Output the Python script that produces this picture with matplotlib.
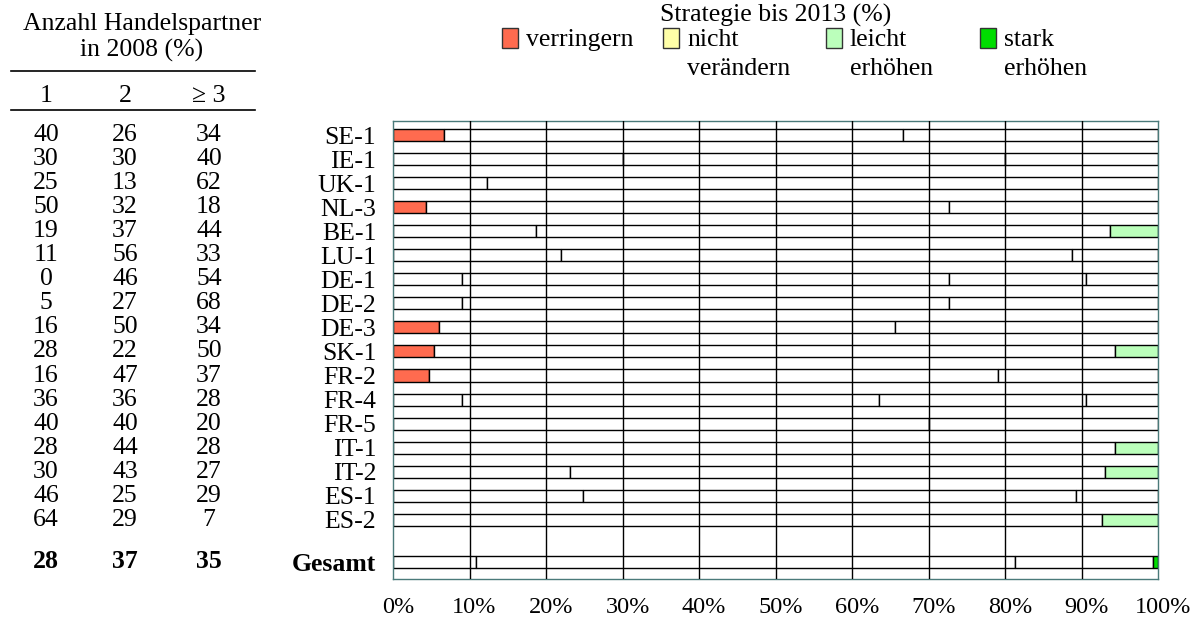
import numpy as np
import matplotlib.pyplot as plt
from matplotlib.patches import Rectangle
from matplotlib.transforms import blended_transform_factory, ScaledTranslation

plt.rcParams['font.family'] = ['Liberation Serif', 'DejaVu Serif']

# Zeilen (Länder / Betriebe)
rows = ["SE-1", "IE-1", "UK-1", "NL-3", "BE-1", "LU-1", "DE-1", "DE-2", "DE-3",
        "SK-1", "FR-2", "FR-4", "FR-5", "IT-1", "IT-2", "ES-1", "ES-2", "Gesamt"]

# Anzahl Handelspartner in 2008 (%)
hp_1 = [40, 30, 25, 50, 19, 11, 0, 5, 16, 28, 16, 36, 40, 28, 30, 46, 64, 28]
hp_2 = [26, 30, 13, 32, 37, 56, 46, 27, 50, 22, 47, 36, 40, 44, 43, 25, 29, 37]
hp_3 = [34, 40, 62, 18, 44, 33, 54, 68, 34, 50, 37, 28, 20, 28, 27, 29, 7, 35]

# Strategie bis 2013 (%) - so wie im Bild sichtbar
verringern = [6.7, 0, 0, 4.3, 0, 0, 0, 0, 6.0, 5.4, 4.7, 0, 0, 0, 0, 0, 0, 0]
leicht = [0, 0, 0, 0, 6.3, 0, 0, 0, 0, 5.7, 0, 0, 0, 5.7, 7.0, 0, 7.3, 0]
stark = [0, 0, 0, 0, 0, 0, 0, 0, 0, 0, 0, 0, 0, 0, 0, 0, 0, 0.7]
# weitere Segmentgrenzen (weisse Segmente)
grenzen = [[66.6], [30, 80], [12.3], [72.6], [18.7], [22.0, 88.7],
           [9.0, 72.6, 90.6], [9.0, 72.6], [65.6], [], [79.0],
           [9.0, 63.5, 90.6], [70], [], [23.1], [24.8, 89.3], [], [10.8, 81.3]]

legend_labels = ["verringern", "nicht\nverändern", "leicht\nerhöhen", "stark\nerhöhen"]
c_red = "#ff6b4f"
c_yellow = "#ffffa8"
c_lgreen = "#bbffbb"
c_green = "#00dd00"
legend_colors = [c_red, c_yellow, c_lgreen, c_green]

fs = 18.5
fig = plt.figure(figsize=(12.04, 6.22), dpi=100)
ax = fig.add_axes([393 / 1204, 1 - 579.3 / 622, (1158.3 - 393) / 1204, (579.3 - 121) / 622])

ypos = np.append(np.arange(len(rows) - 1), len(rows) - 1 + 0.75)
h = 0.5

for i, y in enumerate(ypos):
    red_end = verringern[i]
    green_start = 100 - leicht[i] - stark[i]
    b = [0] + ([red_end] if red_end > 0 else []) + grenzen[i] + [green_start]
    if leicht[i] > 0 and stark[i] > 0:
        b.append(100 - stark[i])
    if b[-1] < 100:
        b.append(100)
    for k in range(len(b) - 1):
        left, right = b[k], b[k + 1]
        if red_end > 0 and k == 0:
            col = c_red
        elif stark[i] > 0 and left >= 100 - stark[i]:
            col = c_green
        elif leicht[i] > 0 and left >= green_start:
            col = c_lgreen
        else:
            col = "white"
        ax.barh(y, right - left, left=left, height=h, color=col,
                edgecolor="black", linewidth=1, zorder=2)

for xg in range(10, 100, 10):
    ax.axvline(xg, color="black", linewidth=1, zorder=3)

ax.set_xlim(0, 100)
ax.set_ylim(ypos[-1] + 0.73, -0.59)
ax.set_xticks(np.arange(0, 101, 10))
ax.set_xticklabels([f"{v}%" for v in range(0, 101, 10)], fontsize=17.5)
ax.set_yticks(ypos)
ax.set_yticklabels(rows, fontsize=fs)
ax.get_yticklabels()[-1].set_fontweight("bold")
ax.tick_params(length=0)
ax.tick_params(axis="x", pad=13)
ax.tick_params(axis="y", pad=12)
for lab in ax.get_xticklabels():
    lab.set_transform(lab.get_transform() + ScaledTranslation(5 / 100, 0, fig.dpi_scale_trans))
for sp in ax.spines.values():
    sp.set_color("#4a7a7a")
    sp.set_linewidth(1)

# linke Tabelle
tr = blended_transform_factory(fig.transFigure, ax.transData)
col_x = [46 / 1204, 125 / 1204, 209 / 1204]
for i, y in enumerate(ypos):
    w = "bold" if i == len(rows) - 1 else "normal"
    for cx, v in zip(col_x, [hp_1[i], hp_2[i], hp_3[i]]):
        fig.text(cx, y, str(v), transform=tr, ha="center", va="center",
                 fontsize=fs, fontweight=w)

fig.text(142 / 1204, 1 - 24 / 622, "Anzahl Handelspartner", ha="center", va="center", fontsize=fs)
fig.text(142 / 1204, 1 - 50 / 622, "in 2008 (%)", ha="center", va="center", fontsize=fs)
for cx, t in zip(col_x, ["1", "2", "≥ 3"]):
    fig.text(cx, 1 - 96 / 622, t, ha="center", va="center", fontsize=fs)
for yl in [71, 110]:
    fig.add_artist(plt.Line2D([11 / 1204, 255 / 1204], [1 - yl / 622, 1 - yl / 622],
                              color="black", linewidth=1.2, transform=fig.transFigure))

# Legende
fig.text(776 / 1204, 1 - 15 / 622, "Strategie bis 2013 (%)", ha="center", va="center", fontsize=fs)
leg_x = [502, 663, 826, 980]
for lx, lab, col in zip(leg_x, legend_labels, legend_colors):
    fig.add_artist(Rectangle((lx / 1204, 1 - 48 / 622), 16 / 1204, 20 / 622,
                             facecolor=col, edgecolor="#333333", linewidth=1,
                             transform=fig.transFigure))
    fig.text((lx + 24) / 1204, 1 - 29 / 622, lab, ha="left", va="top",
             fontsize=fs, linespacing=1.4)

fig.savefig("out.png", dpi=100)
